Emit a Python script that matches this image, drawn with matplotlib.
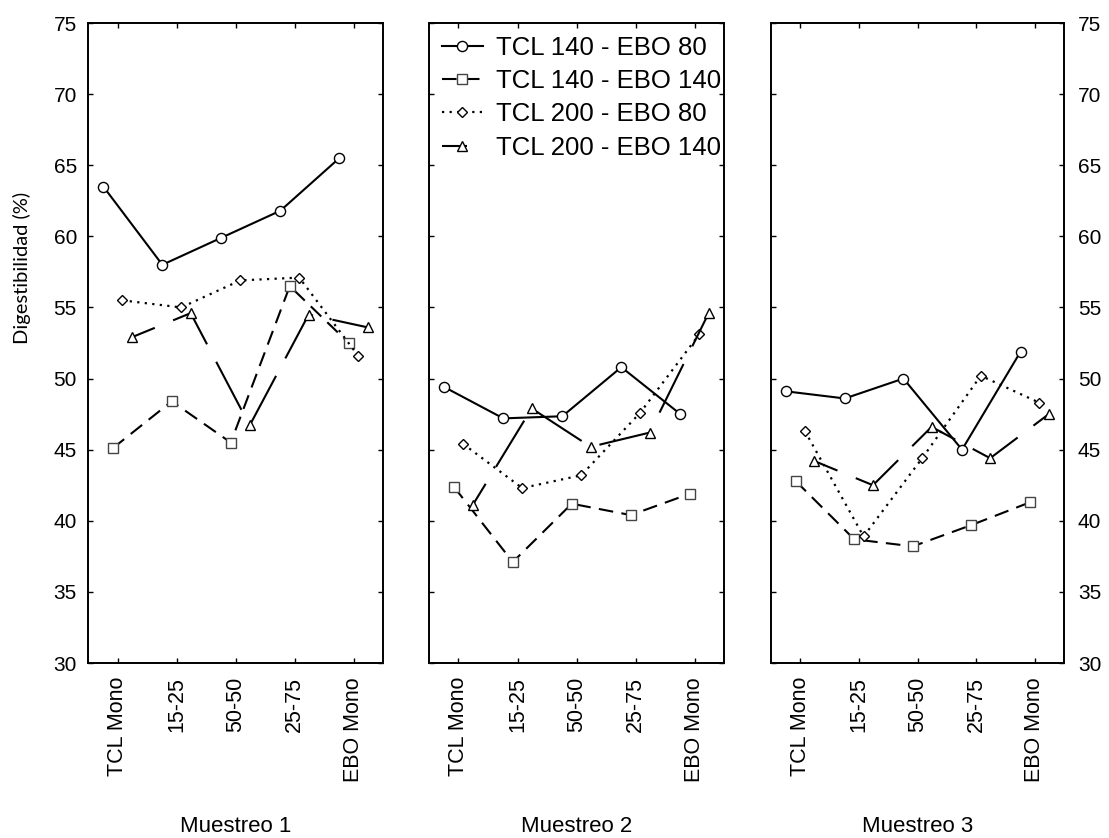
import matplotlib
matplotlib.use("Agg")
import matplotlib.pyplot as plt
import numpy as np

plt.rcParams["font.family"] = ["Liberation Sans", "DejaVu Sans"]

CATEGORIES = ["TCL Mono", "15-25", "50-50", "25-75", "EBO Mono"]
SERIES = ["TCL 140 - EBO 80", "TCL 140 - EBO 140",
          "TCL 200 - EBO 80", "TCL 200 - EBO 140"]
PANELS = ["Muestreo 1", "Muestreo 2", "Muestreo 3"]

# digestibility (%) per sampling, one list per treatment
m1_tcl140_ebo80 = [63.5, 58.0, 59.9, 61.8, 65.5]
m1_tcl140_ebo140 = [45.1, 48.4, 45.5, 56.5, 52.5]
m1_tcl200_ebo80 = [55.5, 55.0, 56.9, 57.1, 51.6]
m1_tcl200_ebo140 = [52.9, 54.6, 46.7, 54.5, 53.6]

m2_tcl140_ebo80 = [49.4, 47.2, 47.35, 50.8, 47.5]
m2_tcl140_ebo140 = [42.4, 37.1, 41.2, 40.4, 41.9]
m2_tcl200_ebo80 = [45.4, 42.3, 43.2, 47.6, 53.1]
m2_tcl200_ebo140 = [41.1, 47.9, 45.2, 46.2, 54.6]

m3_tcl140_ebo80 = [49.1, 48.6, 50.0, 45.0, 51.9]
m3_tcl140_ebo140 = [42.8, 38.7, 38.2, 39.7, 41.3]
m3_tcl200_ebo80 = [46.3, 38.9, 44.4, 50.2, 48.3]
m3_tcl200_ebo140 = [44.2, 42.5, 46.6, 44.4, 47.5]

DATA = [
    [m1_tcl140_ebo80, m1_tcl140_ebo140, m1_tcl200_ebo80, m1_tcl200_ebo140],
    [m2_tcl140_ebo80, m2_tcl140_ebo140, m2_tcl200_ebo80, m2_tcl200_ebo140],
    [m3_tcl140_ebo80, m3_tcl140_ebo140, m3_tcl200_ebo80, m3_tcl200_ebo140],
]

# dodge so the four treatments don't overlap on one category
OFFSETS = [-0.24, -0.08, 0.08, 0.24]
LW = 1.5
STYLES = [
    dict(marker="o", ms=7.3, linestyle="-", mec="black"),
    dict(marker="s", ms=6.8, linestyle=(0, (7.0, 4.0)), mec="#444444"),
    dict(marker="D", ms=4.8, linestyle=(0, (1.0, 2.4)), mec="black", lw=1.6),
    dict(marker="^", ms=7.6, linestyle=(14, (26, 9.5)), mec="black"),
]

W, H = 1109, 838
AX_RECTS = [(88, 295), (429, 295), (771, 293)]
AX_TOP, AX_BOT = 23, 663


def draw_panel(ax, series_vals):
    x = np.arange(len(CATEGORIES))
    for vals, off, st, name in zip(series_vals, OFFSETS, STYLES, SERIES):
        st = dict(st)
        lw = st.pop("lw", LW)
        ax.plot(x + off, vals, color="black", lw=lw, mfc="white", mew=1.0,
                dash_capstyle="butt", label=name, **st)
    ax.set_xlim(-0.5, len(CATEGORIES) - 0.5)
    ax.set_ylim(30, 75)
    ax.set_yticks(np.arange(30, 76, 5))
    ax.set_xticks(x)
    ax.set_xticklabels(CATEGORIES, rotation=90, fontsize=15.5)
    ax.tick_params(axis="both", direction="in", length=3.8, width=1.0,
                   top=True, right=True, labelsize=15)
    ax.tick_params(axis="x", pad=10, labelsize=15.5)
    ax.tick_params(axis="y", pad=8)
    for sp in ax.spines.values():
        sp.set_linewidth(1.4)


fig = plt.figure(figsize=(W / 100, H / 100), dpi=100)
axes = []
for (left, width), vals, title in zip(AX_RECTS, DATA, PANELS):
    ax = fig.add_axes([left / W, 1 - AX_BOT / H, width / W, (AX_BOT - AX_TOP) / H])
    draw_panel(ax, vals)
    fig.text((left + width / 2) / W, 1 - 826 / H, title, ha="center",
             va="center", fontsize=16)
    axes.append(ax)

axes[0].tick_params(axis="y", labelleft=True, labelright=False)
axes[1].tick_params(axis="y", labelleft=False, labelright=False)
axes[2].tick_params(axis="y", labelleft=False, labelright=True, pad=10)

axes[1].legend(loc="upper left", frameon=False, fontsize=18.5, handlelength=1.6,
               handletextpad=0.5, labelspacing=0.36, borderaxespad=0.25,
               borderpad=0.25, numpoints=1)

fig.text(22 / W, 1 - 268 / H, "Digestibilidad (%)", rotation=90, ha="center",
         va="center", fontsize=14.5, family=["Lato", "DejaVu Sans"])

fig.savefig("out.png", dpi=100)
